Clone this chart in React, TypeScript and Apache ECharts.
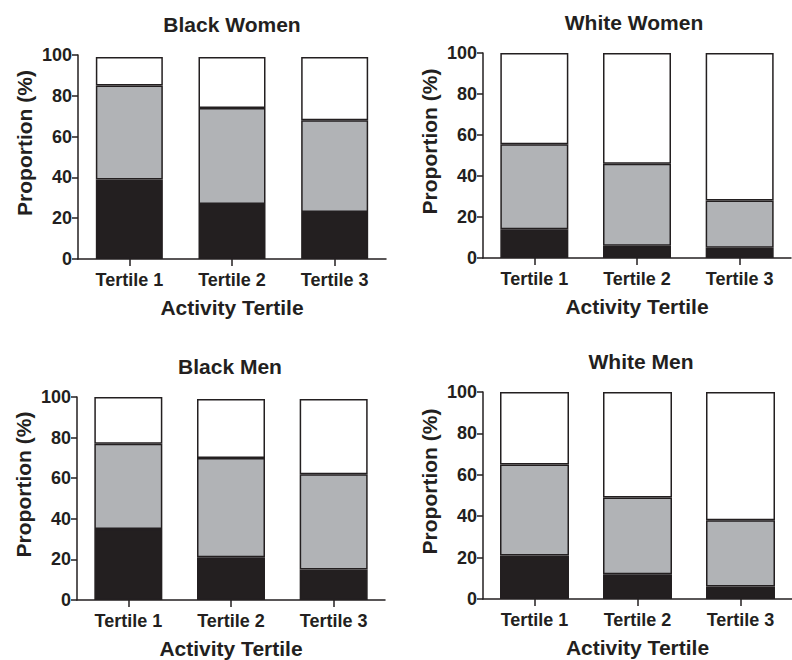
import React, { useEffect, useRef } from 'react';
import * as echarts from 'echarts';

const categories = ['Tertile 1', 'Tertile 2', 'Tertile 3'];
const xAxisTitle = 'Activity Tertile';
const yAxisTitle = 'Proportion (%)';

const blackWomenBottom = [39, 27, 23];
const blackWomenMiddle = [46, 47, 45];
const blackWomenTop = [14, 25, 31];

const whiteWomenBottom = [14, 6, 5];
const whiteWomenMiddle = [41.5, 40, 23];
const whiteWomenTop = [44.5, 54, 72];

const blackMenBottom = [35, 21, 15];
const blackMenMiddle = [42, 49, 47];
const blackMenTop = [23, 29, 37];

const whiteMenBottom = [21, 12, 6];
const whiteMenMiddle = [44, 37, 32];
const whiteMenTop = [35, 51, 62];

const panels = [
  { title: 'Black Women', bottom: blackWomenBottom, middle: blackWomenMiddle, top: blackWomenTop },
  { title: 'White Women', bottom: whiteWomenBottom, middle: whiteWomenMiddle, top: whiteWomenTop },
  { title: 'Black Men', bottom: blackMenBottom, middle: blackMenMiddle, top: blackMenTop },
  { title: 'White Men', bottom: whiteMenBottom, middle: whiteMenMiddle, top: whiteMenTop },
];

const layouts = [
  { left: 78, top: 55, width: 308, height: 204, barWidth: 67, titleX: 232, titleTop: 14 },
  { left: 483, top: 53, width: 308, height: 205, barWidth: 68, titleX: 634, titleTop: 12 },
  { left: 77, top: 397, width: 308, height: 206, barWidth: 68, titleX: 230, titleTop: 356 },
  { left: 483, top: 392, width: 311, height: 207, barWidth: 69, titleX: 641, titleTop: 351 },
];

const INK = '#231f20';
const GRAY = '#b1b3b6';
const FONT = '"Liberation Sans", Arial, Helvetica, sans-serif';

export default function App() {
  const ref = useRef<HTMLDivElement>(null);

  useEffect(() => {
    if (!ref.current) return;
    const chart = echarts.init(ref.current, null, { renderer: 'svg' });

    const grid = layouts.map((l) => ({
      left: l.left,
      top: l.top,
      width: l.width,
      height: l.height,
      containLabel: false,
    }));

    const title = panels.map((p, i) => ({
      text: p.title,
      left: layouts[i].titleX,
      top: layouts[i].titleTop,
      textAlign: 'center',
      padding: 0,
      textStyle: { fontFamily: FONT, fontWeight: 'bold', fontSize: 21, color: INK },
    }));

    const xAxis = panels.map((_, i) => ({
      type: 'category',
      gridIndex: i,
      data: categories,
      name: xAxisTitle,
      nameLocation: 'middle',
      nameGap: 38,
      nameTextStyle: { fontFamily: FONT, fontWeight: 'bold', fontSize: 21, color: INK },
      axisLine: { show: true, lineStyle: { color: INK, width: 1.5 } },
      axisTick: { show: true, alignWithLabel: true, length: 7, lineStyle: { color: INK, width: 1.5 } },
      axisLabel: { fontFamily: FONT, fontWeight: 'bold', fontSize: 18, color: INK, margin: 12 },
      splitLine: { show: false },
    }));

    const yAxis = panels.map((_, i) => ({
      type: 'value',
      gridIndex: i,
      min: 0,
      max: 100,
      interval: 20,
      name: yAxisTitle,
      nameLocation: 'middle',
      nameGap: 43,
      nameRotate: 90,
      nameTextStyle: {
        fontFamily: FONT,
        fontWeight: 'bold',
        fontSize: 21,
        color: INK,
        padding: [0, 0, 0, 28],
      },
      axisLine: { show: true, lineStyle: { color: INK, width: 1.5 } },
      axisTick: { show: true, length: 6, lineStyle: { color: INK, width: 1.5 } },
      axisLabel: { fontFamily: FONT, fontWeight: 'bold', fontSize: 18, color: INK, margin: 6 },
      splitLine: { show: false },
    }));

    const series: any[] = [];
    panels.forEach((p, i) => {
      const segs = [
        { name: 'bottom', data: p.bottom, color: INK },
        { name: 'middle', data: p.middle, color: GRAY },
        { name: 'top', data: p.top, color: '#ffffff' },
      ];
      segs.forEach((s) => {
        series.push({
          type: 'bar',
          name: `${p.title} ${s.name}`,
          xAxisIndex: i,
          yAxisIndex: i,
          stack: `stack${i}`,
          barWidth: layouts[i].barWidth,
          data: s.data,
          itemStyle: { color: s.color, borderColor: INK, borderWidth: 1.5 },
          emphasis: { disabled: true },
        });
      });
    });

    chart.setOption({
      animation: false,
      backgroundColor: '#ffffff',
      title,
      grid,
      xAxis,
      yAxis,
      series,
    });

    return () => {
      chart.dispose();
    };
  }, []);

  return (
    <div
      ref={ref}
      style={{ position: 'fixed', left: 0, top: 0, width: 792, height: 660, background: '#fff' }}
    />
  );
}
